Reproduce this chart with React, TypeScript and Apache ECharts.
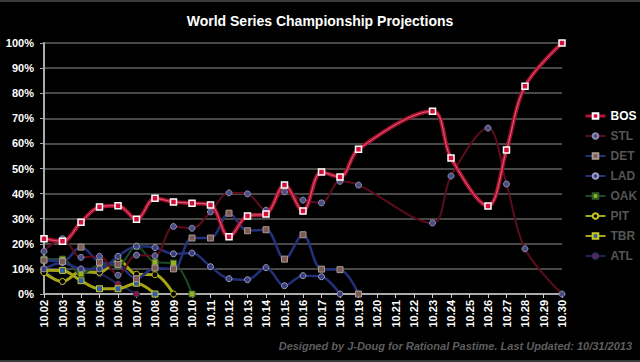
import React, { useEffect, useRef } from 'react';
import * as echarts from 'echarts';

const dates = ['10.02','10.03','10.04','10.05','10.06','10.07','10.08','10.09','10.10','10.11','10.12','10.13','10.14','10.15','10.16','10.17','10.18','10.19','10.20','10.21','10.22','10.23','10.24','10.25','10.26','10.27','10.28','10.29','10.30'];

const BOS = [22, 21, 28.6, 34.7, 35.2, 29.8, 38.1, 36.7, 36.2, 35.5, 22.8, 31.1, 31.9, 43.4, 33.1, 48.6, 46.6, 57.7, null, null, null, 72.8, 54.2, null, 35.1, 57.4, 82.8, null, 100];
const STL = [17, 22, 14.6, 15, 7.5, 15.5, 15.2, 26.9, 26.2, 32.7, 40.3, 39.9, 33.4, 40.7, 37.4, 36.3, 44.9, 43.4, null, null, null, 28.3, 47, null, 66.1, 43.8, 18, null, 0];
const DET = [13.5, 13, 18.7, 12.7, 11.8, 6.1, 10.4, 10, 22.3, 22.3, 32.2, 25.2, 25.6, 13.9, 23.6, 9.9, 9.7, 0];
const LAD = [10, 12.5, 10, 10, 15, 19, 18.5, 16, 16.3, 10.9, 6.1, 5.7, 10.5, 3.3, 7.3, 6.9, 0];
const OAK = [13.9, 13.9, 8, 11.5, 11.5, 19, 12.7, 12.3, 0];
const PIT = [8.5, 5, 9, 8.6, 13.6, 7.9, 7.7, 0];
const TBR = [9.5, 9.4, 5.3, 2.1, 2.1, 4.3, 0];
const ATL = [10, 4.8, 8.5, 8, 4, 0];

const teams = ['BOS', 'STL', 'DET', 'LAD', 'OAK', 'PIT', 'TBR', 'ATL'];
const yTicks = [0, 10, 20, 30, 40, 50, 60, 70, 80, 90, 100];

const FONT = '"Liberation Sans", Arial, Helvetica, sans-serif';

function pad(arr: (number | null)[]) {
  const out: (number | null)[] = arr.slice();
  while (out.length < dates.length) out.push(null);
  return out;
}

function mk(name: string, data: (number | null)[], lineColor: string, width: number, symbol: string, fill: string, border: string, z: number, borderWidth = 1) {
  return {
    name,
    type: 'line',
    data: pad(data),
    smooth: 0.35,
    connectNulls: true,
    symbol,
    symbolSize: 6,
    showAllSymbol: true,
    z,
    lineStyle: { color: lineColor, width },
    itemStyle: { color: fill, borderColor: border, borderWidth },
    emphasis: { disabled: true },
  };
}

export default function App() {
  const ref = useRef<HTMLDivElement>(null);
  useEffect(() => {
    const chart = echarts.init(ref.current!, null, { renderer: 'svg' });
    const dim = '#555';
    chart.setOption({
      animation: false,
      backgroundColor: '#000',
      title: {
        text: 'World Series Championship Projections',
        left: 'center',
        top: 9,
        textStyle: { color: '#fff', fontSize: 14, fontWeight: 'bold', fontFamily: FONT },
      },
      legend: {
        orient: 'vertical',
        left: 579,
        top: 104,
        itemWidth: 20,
        itemHeight: 7,
        itemGap: 6,
        textStyle: { color: dim, fontSize: 12, fontWeight: 'bold', fontFamily: FONT, lineHeight: 14 },
        data: teams.map((t, i) =>
          i === 0
            ? { name: t, textStyle: { color: '#fff' }, lineStyle: { color: '#b8103a', width: 3 } }
            : { name: t }
        ),
        selectedMode: false,
      },
      graphic: [
        { type: 'rect', shape: { x: 0, y: 0, width: 640, height: 2 }, style: { fill: '#3a3a3a' } },
        { type: 'rect', shape: { x: 0, y: 360, width: 640, height: 2 }, style: { fill: '#3a3a3a' } },
        {
          type: 'text',
          right: 8,
          top: 340,
          style: {
            text: 'Designed by J-Doug for Rational Pastime. Last Updated: 10/31/2013',
            fill: '#5e5e5e',
            font: 'italic bold 11px ' + FONT,
          },
        },
      ],
      grid: { left: 44, right: 78, top: 43, bottom: 68 },
      xAxis: {
        type: 'category',
        data: dates,
        boundaryGap: false,
        axisLine: { lineStyle: { color: '#aaa', width: 2 } },
        axisTick: { show: true, alignWithLabel: true, length: 4, lineStyle: { color: '#ccc' } },
        axisLabel: { rotate: 90, color: '#fff', fontWeight: 'bold', fontSize: 11, fontFamily: FONT, margin: 6, interval: 0 },
        splitLine: { show: false },
      },
      yAxis: {
        type: 'value',
        min: yTicks[0],
        max: yTicks[yTicks.length - 1],
        interval: 10,
        axisLine: { show: true, lineStyle: { color: '#aaa', width: 2 } },
        axisTick: { show: true, length: 4, lineStyle: { color: '#aaa' } },
        axisLabel: { formatter: '{value}%', color: '#fff', fontWeight: 'bold', fontSize: 11, fontFamily: FONT, margin: 10 },
        splitLine: { lineStyle: { color: '#484848', width: 2 } },
      },
      series: [
        mk('ATL', ATL, '#1c2558', 2, 'circle', '#8a1838', '#2a3368', 2),
        mk('TBR', TBR, '#a6a614', 3, 'rect', '#2f5fa8', '#c8c820', 2),
        mk('PIT', PIT, '#a6a614', 3, 'circle', '#000', '#c8c820', 2),
        mk('OAK', OAK, '#1d4a2a', 2, 'rect', '#9ab020', '#2e5a2a', 2),
        mk('LAD', LAD, '#23307a', 2.5, 'circle', '#3a3f78', '#9a9cc4', 3),
        mk('DET', DET, '#23307a', 2.5, 'rect', '#7a5a52', '#a89890', 3),
        mk('STL', STL, '#5c0d1c', 2, 'circle', '#4a4e7e', '#8a8eb6', 4),
        {
          name: 'BOS_outer',
          type: 'line',
          data: BOS,
          smooth: 0.35,
          connectNulls: true,
          showSymbol: false,
          z: 5,
          lineStyle: { color: '#a8102e', width: 4 },
          emphasis: { disabled: true },
        },
        mk('BOS', BOS, '#e0607e', 1, 'rect', '#d0103a', '#fff', 6, 1.5),
      ],
    });
    return () => chart.dispose();
  }, []);
  return <div ref={ref} style={{ position: 'fixed', left: 0, top: 0, width: 640, height: 362, background: '#000' }} />;
}
